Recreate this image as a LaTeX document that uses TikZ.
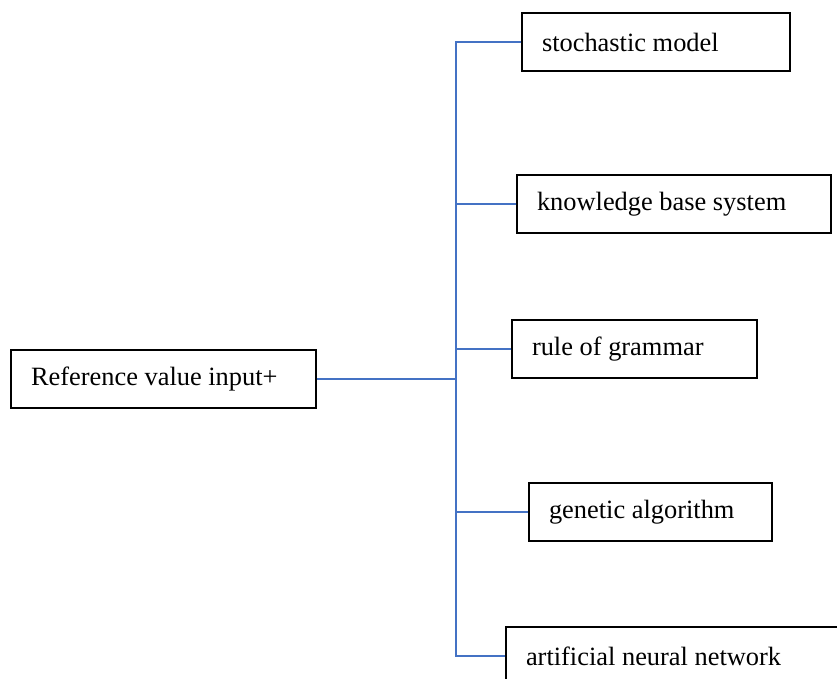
\documentclass[tikz,border=0pt]{standalone}
\usepackage{fontspec}
\setmainfont{Liberation Serif}
\newcommand{\boxtext}[2]{\makebox[#1][l]{#2}}
\begin{document}
\begin{tikzpicture}[x=1pt,y=-1pt,
  box/.style={draw=black,line width=1.2pt,rectangle,minimum height=58pt,inner xsep=20pt,inner ysep=0pt,font=\fontsize{26.4}{30}\selectfont},
  conn/.style={draw={rgb,255:red,68;green,114;blue,196},line width=1.2pt}]
\useasboundingbox (0,0) rectangle (837,678);
\clip (0,0) rectangle (837,678);
\node[box] (ref) at (163.5,379) {\boxtext{265pt}{Reference value input+}};
\node[box] (sto) at (656,42) {\boxtext{228pt}{stochastic model}};
\node[box] (kno) at (674,204) {\boxtext{274pt}{knowledge base system}};
\node[box] (rul) at (634.5,349) {\boxtext{205pt}{rule of grammar}};
\node[box] (gen) at (650.5,512) {\boxtext{203pt}{genetic algorithm}};
\node[box] (ann) at (676,656) {\boxtext{300pt}{artificial neural network}};
\coordinate (j) at (456,379);
\coordinate (t) at (456,42);
\coordinate (b) at (456,656);
\draw[conn] (ref.east) -- (j);
\draw[conn] (sto.west) -- (t) -- (b) -- (ann.west);
\draw[conn] (kno.west) -- (kno.west -| j);
\draw[conn] (rul.west) -- (rul.west -| j);
\draw[conn] (gen.west) -- (gen.west -| j);
\end{tikzpicture}
\end{document}
